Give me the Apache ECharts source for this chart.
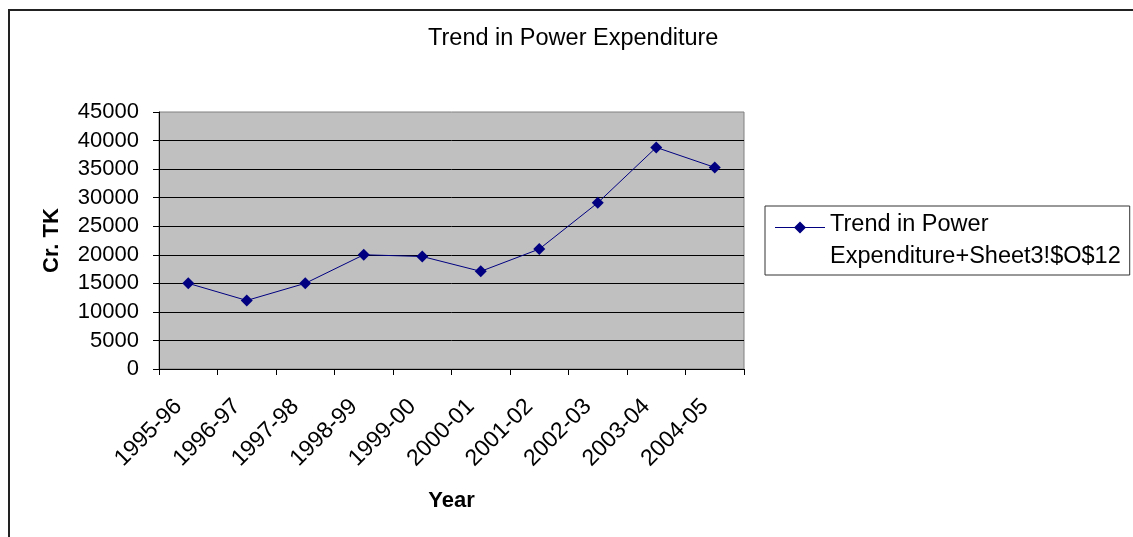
<!DOCTYPE html>
<html>
<head>
<meta charset="utf-8">
<title>Trend in Power Expenditure</title>
<script src="https://cdn.jsdelivr.net/npm/echarts@6/dist/echarts.min.js"></script>
<style>
  html, body { margin: 0; padding: 0; background: #fff; }
  #chart { width: 1133px; height: 537px; }
</style>
</head>
<body>
<div id="chart"></div>
<script>
// Fiscal years on the category axis
const years = ['1995-96', '1996-97', '1997-98', '1998-99', '1999-00',
               '2000-01', '2001-02', '2002-03', '2003-04', '2004-05'];
// Power expenditure, Cr. TK
const expenditure = [15000, 12000, 15000, 20000, 19700, 17100, 21000, 29100, 38800, 35300];
// Value axis range and step
const yMin = 0;
const yMax = 45000;
const yStep = 5000;

const seriesName = 'Trend in Power\nExpenditure+Sheet3!$O$12';
const FONT = '"Liberation Sans", Arial, sans-serif';

// Legend icon: a short line with a diamond on it, placed level with the first text line
const legendIcon = 'path://M0,0L0.01,0L0,0.01Z' +
  'M0,17.5L50,17.5L50,18.5L0,18.5Z' +
  'M25,12L31,18L25,24L19,18Z' +
  'M49.99,63L50,63L50,62.99Z';

const chart = echarts.init(document.getElementById('chart'), null, { renderer: 'canvas' });

chart.setOption({
  animation: false,
  backgroundColor: '#ffffff',
  textStyle: { fontFamily: FONT },
  title: {
    text: 'Trend in Power Expenditure',
    left: 428,
    top: 27,
    padding: 0,
    textStyle: { fontFamily: FONT, fontSize: 23.5, fontWeight: 'normal', color: '#000' }
  },
  graphic: [{
    type: 'rect',
    silent: true,
    shape: { x: 9, y: 10, width: 2000, height: 2000 },
    style: { fill: 'none', stroke: '#222', lineWidth: 2 },
    z: 100
  }],
  legend: {
    left: 765,
    top: 206,
    orient: 'vertical',
    padding: [3, 9, 2, 10],
    borderColor: '#333',
    borderWidth: 1,
    backgroundColor: '#fff',
    itemWidth: 50,
    itemHeight: 63,
    icon: legendIcon,
    itemStyle: { color: '#000080', borderWidth: 0 },
    textStyle: { fontFamily: FONT, fontSize: 23.5, color: '#000', lineHeight: 32 },
    selectedMode: false,
    data: [seriesName]
  },
  grid: {
    left: 159,
    top: 112,
    width: 585,
    height: 257,
    show: true,
    backgroundColor: '#C0C0C0',
    borderColor: '#808080',
    borderWidth: 1
  },
  xAxis: {
    type: 'category',
    data: years,
    boundaryGap: true,
    name: 'Year',
    nameLocation: 'middle',
    nameGap: 121,
    nameTextStyle: { fontFamily: FONT, fontSize: 22, fontWeight: 'bold', color: '#000' },
    axisLine: { show: true, lineStyle: { color: '#000', width: 1 } },
    axisTick: { show: true, length: 6, interval: 0, alignWithLabel: false, lineStyle: { color: '#000' } },
    axisLabel: {
      interval: 0, rotate: 45, margin: 24, padding: [0, 14, 0, 0],
      fontFamily: FONT, fontSize: 23, color: '#000'
    },
    splitLine: { show: false }
  },
  yAxis: {
    type: 'value',
    min: yMin,
    max: yMax,
    interval: yStep,
    name: 'Cr. TK',
    nameLocation: 'middle',
    nameRotate: 90,
    nameGap: 96,
    nameTextStyle: { fontFamily: FONT, fontSize: 22, fontWeight: 'bold', color: '#000' },
    axisLine: { show: true, lineStyle: { color: '#000', width: 1 } },
    axisTick: { show: true, length: 6, lineStyle: { color: '#000' } },
    axisLabel: {
      margin: 20, fontFamily: FONT, fontSize: 22, color: '#000',
      formatter: (v) => String(v)
    },
    splitLine: { show: true, showMaxLine: false, lineStyle: { color: '#000', width: 1 } }
  },
  series: [{
    name: seriesName,
    type: 'line',
    data: expenditure,
    symbol: 'diamond',
    symbolSize: 12,
    showSymbol: true,
    lineStyle: { color: '#000080', width: 1 },
    itemStyle: { color: '#000080', borderWidth: 0 },
    emphasis: { disabled: true }
  }]
});
</script>
</body>
</html>
